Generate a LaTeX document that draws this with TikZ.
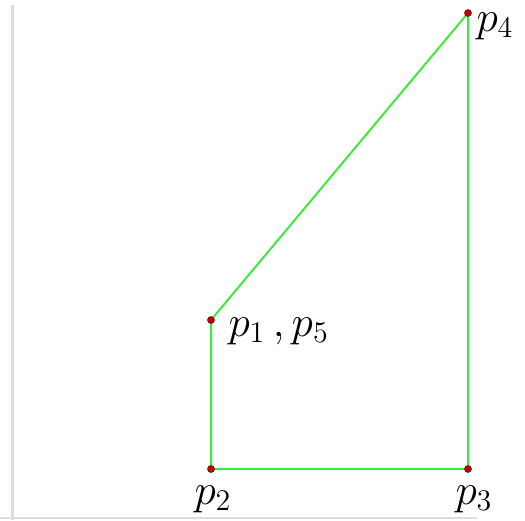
\documentclass[tikz,border=0pt]{standalone}
\tikzset{
  edge/.style={draw={rgb,255:red,60;green,235;blue,60}, line width=2pt},
  pt/.style={circle, fill={rgb,255:red,200;green,0;blue,0}, draw={rgb,255:red,110;green,20;blue,20}, line width=0.6pt, inner sep=0pt, minimum size=7pt},
  lbl/.style={inner sep=0pt, font=\LARGE, scale=2.5},
  frame/.style={draw={rgb,255:red,221;green,221;blue,221}}
}
\begin{document}
\begin{tikzpicture}[x=1pt,y=-1pt]
\useasboundingbox (0,0) rectangle (525,520);
\fill[white] (0,0) rectangle (525,520);
\draw[frame, line width=3pt] (12,5) -- (12,520);
\draw[frame, line width=2.5pt] (0,518) -- (477,518);
\coordinate (p1) at (211,320);
\coordinate (p2) at (211,469);
\coordinate (p3) at (468,469);
\coordinate (p4) at (468,13);
\draw[edge] (p1) -- (p2) -- (p3) -- (p4) -- (p1);
\node[pt] (d1) at (p1) {};
\node[pt] (d2) at (p2) {};
\node[pt] (d3) at (p3) {};
\node[pt] (d4) at (p4) {};
\node[lbl, anchor=base west] (l1) at (228,336) {$p_1\,,p_5$};
\node[lbl, anchor=base west] (l2) at (194,504) {$p_2$};
\node[lbl, anchor=base west] (l3) at (455,504) {$p_3$};
\node[lbl, anchor=base west] (l4) at (476,31) {$p_4$};
\end{tikzpicture}
\end{document}
